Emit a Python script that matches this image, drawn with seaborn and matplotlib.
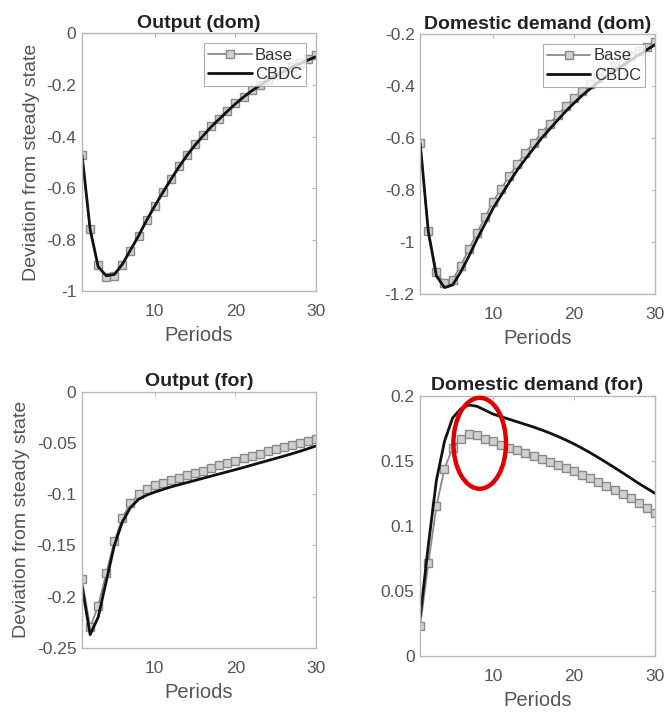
import numpy as np
import pandas as pd
import matplotlib
matplotlib.use("Agg")
import matplotlib.pyplot as plt
from matplotlib.patches import Ellipse
from matplotlib.ticker import FuncFormatter
import seaborn as sns

periods = list(range(1, 31))

output_dom_base = [-0.47, -0.76, -0.90, -0.945, -0.94, -0.90, -0.845, -0.785, -0.725, -0.67,
                   -0.615, -0.565, -0.515, -0.47, -0.43, -0.395, -0.36, -0.33, -0.30, -0.27,
                   -0.245, -0.22, -0.20, -0.18, -0.16, -0.145, -0.13, -0.115, -0.10, -0.085]
output_dom_cbdc = [-0.47, -0.76, -0.905, -0.94, -0.935, -0.895, -0.84, -0.785, -0.725, -0.67,
                   -0.617, -0.567, -0.518, -0.473, -0.433, -0.397, -0.362, -0.332, -0.302, -0.273,
                   -0.247, -0.223, -0.202, -0.182, -0.163, -0.147, -0.131, -0.117, -0.103, -0.09]

dd_dom_base = [-0.617, -0.956, -1.114, -1.159, -1.146, -1.091, -1.028, -0.966, -0.905, -0.844,
               -0.795, -0.746, -0.699, -0.656, -0.617, -0.580, -0.544, -0.510, -0.477, -0.446,
               -0.418, -0.392, -0.368, -0.345, -0.323, -0.303, -0.284, -0.266, -0.248, -0.23]
dd_dom_cbdc = [-0.62, -0.96, -1.13, -1.175, -1.165, -1.115, -1.055, -0.99, -0.93, -0.87,
               -0.82, -0.77, -0.722, -0.68, -0.64, -0.60, -0.565, -0.53, -0.496, -0.465,
               -0.436, -0.41, -0.385, -0.361, -0.34, -0.32, -0.30, -0.28, -0.26, -0.24]

output_for_base = [-0.183, -0.23, -0.209, -0.177, -0.146, -0.123, -0.109, -0.100, -0.095, -0.0915,
                   -0.089, -0.0865, -0.084, -0.0815, -0.0795, -0.077, -0.0745, -0.072, -0.0698, -0.0675,
                   -0.0652, -0.063, -0.0607, -0.0583, -0.056, -0.0538, -0.0517, -0.0497, -0.0478, -0.046]
output_for_cbdc = [-0.19, -0.237, -0.22, -0.185, -0.15, -0.127, -0.113, -0.105, -0.101, -0.098,
                   -0.0955, -0.093, -0.0908, -0.0887, -0.0866, -0.0845, -0.0824, -0.0803, -0.0782, -0.0761,
                   -0.074, -0.0717, -0.0695, -0.0673, -0.0651, -0.0629, -0.0606, -0.0582, -0.0556, -0.053]

dd_for_base = [0.023, 0.071, 0.115, 0.144, 0.160, 0.167, 0.171, 0.170, 0.167, 0.165,
               0.1625, 0.160, 0.158, 0.1558, 0.1535, 0.1512, 0.149, 0.1467, 0.1443, 0.142,
               0.1393, 0.1365, 0.1337, 0.1307, 0.1277, 0.1245, 0.1212, 0.1177, 0.114, 0.110]
dd_for_cbdc = [0.03, 0.085, 0.135, 0.165, 0.183, 0.19, 0.193, 0.192, 0.189, 0.186,
               0.184, 0.182, 0.180, 0.178, 0.176, 0.1738, 0.1714, 0.1688, 0.166, 0.163,
               0.1597, 0.1562, 0.1525, 0.1487, 0.1448, 0.1408, 0.1367, 0.1326, 0.1288, 0.125]

titles = ["Output (dom)", "Domestic demand (dom)", "Output (for)", "Domestic demand (for)"]
series = [(output_dom_base, output_dom_cbdc), (dd_dom_base, dd_dom_cbdc),
          (output_for_base, output_for_cbdc), (dd_for_base, dd_for_cbdc)]
ylims = [(-1, 0), (-1.2, -0.2), (-0.25, 0), (0, 0.2)]
yticks = [[-1, -0.8, -0.6, -0.4, -0.2, 0],
          [-1.2, -1, -0.8, -0.6, -0.4, -0.2],
          [-0.25, -0.2, -0.15, -0.1, -0.05, 0],
          [0, 0.05, 0.1, 0.15, 0.2]]
xticks = [10, 20, 30]

sns.set_style("white")
plt.rcParams['font.family'] = ['Liberation Sans', 'DejaVu Sans']
plt.rcParams['axes.unicode_minus'] = False

fig = plt.figure(figsize=(6.67, 7.12), dpi=100)
positions = [[0.123, 0.591, 0.351, 0.362],
             [0.630, 0.587, 0.352, 0.365],
             [0.123, 0.090, 0.351, 0.360],
             [0.630, 0.079, 0.352, 0.365]]

tick_col = "#555555"
edge_col = "#b8b8b8"

def fmt(v, pos):
    return "%g" % round(v, 4)

for i in range(4):
    ax = fig.add_axes(positions[i])
    base, cbdc = series[i]
    df = pd.DataFrame({"Periods": periods * 2,
                       "value": list(base) + list(cbdc),
                       "Scenario": ["Base"] * 30 + ["CBDC"] * 30})
    sns.lineplot(data=df[df.Scenario == "Base"], x="Periods", y="value", ax=ax,
                 color="#8a8a8a", lw=1.3, marker="s", markersize=5.2,
                 markerfacecolor="#d0d0d0", markeredgecolor="#8a8a8a",
                 markeredgewidth=1.0, label="Base", legend=False)
    sns.lineplot(data=df[df.Scenario == "CBDC"], x="Periods", y="value", ax=ax,
                 color="#111111", lw=2.0, label="CBDC", legend=False)
    ax.set_xlim(1, 30)
    ax.set_ylim(*ylims[i])
    ax.set_xticks(xticks)
    ax.set_yticks(yticks[i])
    ax.yaxis.set_major_formatter(FuncFormatter(fmt))
    ax.tick_params(direction="in", length=3, width=0.8, colors=edge_col,
                   labelcolor=tick_col, labelsize=12.5, top=True, right=True,
                   pad=4)
    ax.tick_params(axis="x", pad=9.5)
    for sp in ax.spines.values():
        sp.set_color(edge_col)
        sp.set_linewidth(1.0)
    ax.set_title(titles[i], fontsize=14, fontweight="bold", color="#222222", pad=4)
    ax.set_xlabel("Periods", fontsize=14.5, color=tick_col, labelpad=5)
    if i % 2 == 0:
        ax.set_ylabel("Deviation from steady state", fontsize=14, color=tick_col, labelpad=5)
    else:
        ax.set_ylabel("")
    if i < 2:
        leg = ax.legend(loc="upper right", fontsize=12, frameon=True, fancybox=False,
                        borderpad=0.25, handlelength=2.6, handletextpad=0.2,
                        labelspacing=0.25, borderaxespad=0.6)
        leg.get_frame().set_edgecolor("#999999")
        leg.get_frame().set_linewidth(0.8)
        for t in leg.get_texts():
            t.set_color("#333333")
    if i == 3:
        ell = Ellipse((8.35, 0.1635), width=6.5, height=0.07, fill=False,
                      edgecolor="#e00000", lw=3.2, clip_on=False, zorder=5)
        ax.add_patch(ell)

fig.savefig("out.png", dpi=100)
